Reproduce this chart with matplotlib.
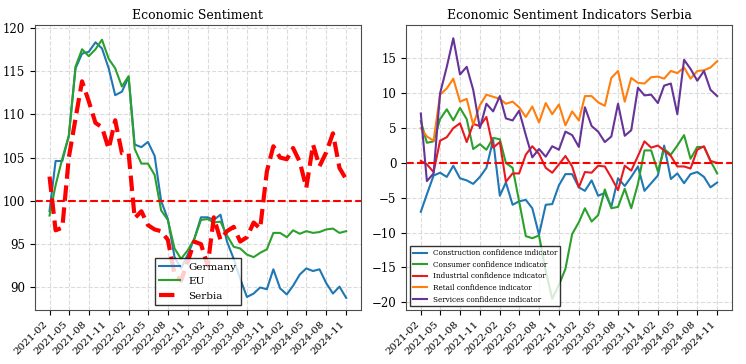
import matplotlib
matplotlib.use("Agg")
import matplotlib.pyplot as plt
import numpy as np
import pandas as pd

plt.rcParams['font.family'] = 'DejaVu Serif'

dates = pd.date_range("2021-02-01", "2024-11-01", freq="MS")

# economic sentiment (left panel)
germany = [98.8, 104.6, 104.6, 107.5, 115.3, 117.0, 117.2, 118.3, 117.6, 115.3,
           112.2, 112.6, 114.3, 106.5, 106.2, 106.8, 105.2, 100.0, 97.9, 93.5,
           92.2, 93.8, 95.6, 98.1, 98.1, 97.8, 98.4, 95.3, 93.3, 91.0,
           88.9, 89.3, 90.0, 89.8, 92.1, 89.9, 89.2, 90.2, 91.5, 92.2,
           91.9, 92.1, 90.5, 89.3, 90.1, 88.8]
eu = [98.3, 101.8, 104.9, 107.5, 115.5, 117.5, 116.7, 117.5, 118.6, 116.4,
      115.3, 113.2, 114.4, 106.0, 104.3, 104.3, 103.0, 98.9, 97.8, 94.5,
      93.3, 94.3, 95.6, 97.8, 97.9, 97.5, 97.6, 96.0, 94.7, 94.5,
      93.8, 93.5, 94.0, 94.4, 96.3, 96.3, 95.8, 96.6, 96.2, 96.5,
      96.3, 96.4, 96.7, 96.8, 96.3, 96.5]
serbia = [102.8, 96.6, 96.9, 105.0, 109.5, 113.8, 111.5, 109.0, 108.5, 106.0,
          109.3, 105.5, 105.5, 98.0, 98.8, 97.2, 96.7, 96.5, 95.5, 91.5,
          90.8, 93.0, 95.3, 95.0, 92.5, 98.1, 95.5, 96.5, 97.0, 95.3,
          95.8, 97.5, 96.8, 103.4, 106.3, 105.0, 104.8, 106.1, 104.5, 101.5,
          106.5, 104.0, 105.6, 107.8, 103.8, 102.5]

# Serbia indicators (right panel)
construction = [-7.0, -4.5, -1.8, -1.4, -2.0, -0.4, -2.2, -2.5, -3.0, -2.0,
                -0.7, 3.3, -4.7, -2.8, -6.0, -5.5, -5.3, -6.5, -10.3, -6.0,
                -5.9, -3.2, -1.6, -1.6, -3.5, -4.0, -2.5, -4.7, -4.3, -6.3,
                -2.2, -3.3, -2.0, -0.5, -4.0, -2.9, -1.8, 2.5, -2.3, -1.5,
                -2.9, -1.6, -1.3, -2.0, -3.5, -2.8]
consumer = [6.0, 2.9, 3.1, 6.3, 7.7, 6.1, 7.9, 6.3, 2.0, 2.7,
            1.9, 3.6, 3.4, 0.0, -0.7, -5.5, -10.5, -10.8, -10.4, -15.5,
            -19.5, -17.5, -15.2, -10.2, -8.5, -6.5, -8.4, -7.5, -3.8, -6.5,
            -6.3, -3.7, -6.5, -3.0, 1.8, 1.8, -1.2, 2.0, 1.2, 2.5,
            4.0, 0.6, 2.3, 2.3, 0.3, -1.5]
industrial = [0.3, -0.2, -1.3, 3.2, 3.7, 5.0, 5.7, 3.0, 5.6, 5.3,
              6.6, 2.2, 3.0, -2.7, -1.5, -1.5, 1.2, 2.4, 1.3, -0.7,
              -1.4, -0.2, 1.0, -0.5, -3.5, -1.3, -1.4, -0.4, -0.5, -2.1,
              -3.9, -0.4, -1.1, 1.0, 3.1, 2.2, 2.5, 1.8, 1.0, -0.5,
              -0.5, -0.8, 1.9, 2.4, 0.3, 0.0]
retail = [5.0, 3.8, 3.2, 9.8, 10.7, 12.1, 8.8, 9.2, 5.5, 8.3,
          9.8, 9.5, 9.2, 8.5, 8.8, 8.0, 6.6, 8.1, 5.8, 8.6,
          7.0, 8.4, 5.4, 7.4, 6.1, 9.6, 9.6, 8.7, 8.2, 12.2,
          13.2, 8.8, 12.2, 11.5, 11.4, 12.3, 12.4, 12.1, 13.2, 12.9,
          13.7, 12.1, 13.2, 13.3, 13.7, 14.6]
services = [7.1, -2.6, -1.5, 10.0, 13.8, 17.9, 12.7, 13.8, 10.5, 5.0,
            8.5, 7.4, 9.6, 6.4, 6.1, 7.5, 4.0, 0.8, 2.0, 0.9,
            2.4, 1.9, 4.5, 4.0, 2.3, 8.0, 5.3, 4.5, 3.0, 3.8,
            8.5, 3.9, 4.7, 10.8, 9.7, 9.8, 8.6, 11.1, 11.4, 7.0,
            14.8, 13.5, 11.8, 13.2, 10.5, 9.6]

tick_dates = dates[::3]
tick_labels = [d.strftime("%Y-%m") for d in tick_dates]

fig = plt.figure(figsize=(7.46, 3.64), dpi=100)
ax1 = fig.add_axes([34.7/746, 1-310/364, (361-34.7)/746, 285/364])
ax2 = fig.add_axes([406/746, 1-310/364, (732-406)/746, 285/364])

ax1.plot(dates, germany, color='tab:blue', lw=1.5, label='Germany')
ax1.plot(dates, eu, color='tab:green', lw=1.5, label='EU')
ax1.plot(dates, serbia, '--', color='red', lw=3, label='Serbia')
ax1.axhline(100, color='red', ls='--', lw=1.5)
ax1.set_ylim(87.4, 120.3)
ax1.set_title("Economic Sentiment", fontsize=9, pad=4)
ax1.legend(loc='lower center', fontsize=7.5, framealpha=0.8,
           edgecolor='black', fancybox=False)

ax2.plot(dates, construction, color='tab:blue', lw=1.5, label='Construction confidence indicator')
ax2.plot(dates, consumer, color='tab:green', lw=1.5, label='Consumer confidence indicator')
ax2.plot(dates, industrial, color='#e8191f', lw=1.5, label='Industrial confidence indicator')
ax2.plot(dates, retail, color='tab:orange', lw=1.5, label='Retail confidence indicator')
ax2.plot(dates, services, color='rebeccapurple', lw=1.5, label='Services confidence indicator')
ax2.axhline(0, color='red', ls='--', lw=1.5)
ax2.set_ylim(-21.1, 19.8)
ax2.set_title("Economic Sentiment Indicators Serbia", fontsize=9, pad=4)
ax2.legend(loc='lower left', fontsize=5.2, framealpha=0.8,
           edgecolor='black', fancybox=False)

for ax in (ax1, ax2):
    ax.set_xticks(tick_dates)
    ax.set_xticklabels(tick_labels, rotation=45, ha='right', fontsize=7.5)
    ax.tick_params(axis='y', labelsize=8.5)
    ax.grid(True, ls='--', color='lightgray', alpha=0.8)
    for s in ax.spines.values():
        s.set_color('0.3')

fig.savefig("out.png", dpi=100)
